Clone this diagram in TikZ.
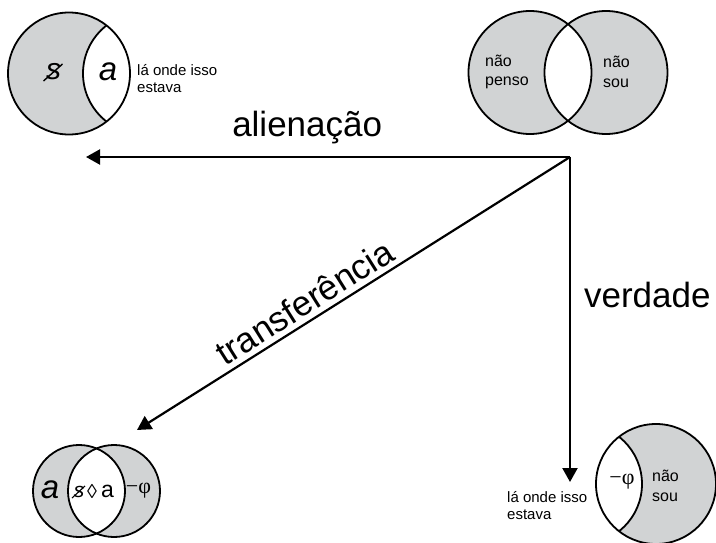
\documentclass[tikz,border=0pt]{standalone}
\usepackage{fontspec}
\setmainfont{Liberation Sans}
\newfontfamily\serifx{Liberation Serif}
\usetikzlibrary{arrows.meta}
\definecolor{venngrey}{RGB}{209,211,212}
\begin{document}
\begin{tikzpicture}[x=1pt,y=-1pt,
  ring/.style={line width=1.8pt},
  arr/.style={line width=2.2pt,-{Triangle[length=14pt,width=15pt]}},
  big/.style={font=\fontsize{35}{40}\selectfont, inner sep=0pt},
  word/.style={font=\fontsize{16}{19.5}\selectfont, align=left, anchor=west, inner sep=0pt},
  note/.style={font=\fontsize{15}{17}\selectfont, align=left, anchor=west, inner sep=0pt},
  sym/.style={inner sep=0pt}]
\useasboundingbox (0,0) rectangle (716,543);

% ---------- top-left circle (alienation) ----------
\fill[venngrey] (69,73.5) circle (61pt);
\begin{scope}
  \clip (144,73.5) circle (61pt);
  \fill[white] (69,73.5) circle (61pt);
\end{scope}
\begin{scope}
  \clip (69,73.5) circle (61pt);
  \draw[ring] (144,73.5) circle (61pt);
\end{scope}
\draw[ring] (69,73.5) circle (61pt);
\node[sym, font=\fontsize{30}{30}\selectfont\itshape] (bs1) at (53.5,72) {s};
\draw[line width=1.4pt] (bs1.center) ++(-10,9) -- ++(19,-17);
\node[sym, font=\fontsize{33}{33}\selectfont\itshape] (a1) at (108,72) {a};
\node[note] (n1) at (137,78.5) {lá onde isso\\estava};

% ---------- top-right Venn ----------
\fill[venngrey] (530,72.5) circle (61.5pt);
\fill[venngrey] (606,72.5) circle (61.5pt);
\begin{scope}
  \clip (530,72.5) circle (61.5pt);
  \fill[white] (606,72.5) circle (61.5pt);
\end{scope}
\draw[ring] (530,72.5) circle (61.5pt);
\draw[ring] (606,72.5) circle (61.5pt);
\node[word] (np) at (485,72) {não\\penso};
\node[word] (ns1) at (603,72) {não\\sou};

% ---------- bottom-left Venn ----------
\fill[venngrey] (79,491) circle (46pt);
\fill[venngrey] (114,491) circle (46pt);
\begin{scope}
  \clip (79,491) circle (46pt);
  \fill[white] (114,491) circle (46pt);
\end{scope}
\draw[ring] (79,491) circle (46pt);
\draw[ring] (114,491) circle (46pt);
\node[sym, font=\fontsize{33}{33}\selectfont\itshape] (a2) at (50,490) {a};
\node[sym, font=\fontsize{21}{21}\selectfont\itshape] (bs2) at (79,492) {s};
\draw[line width=1.1pt] (bs2.center) ++(-7,6) -- ++(13,-12);
\node[sym, font=\fontsize{20}{20}\selectfont] (dia) at (92,491) {◊};
\node[sym, font=\fontsize{23}{23}\selectfont] (a3) at (107.5,491) {a};
\node[sym, font=\fontsize{22}{22}\selectfont\serifx] (phi1) at (138.5,491) {−φ};

% ---------- bottom-right circle (truth) ----------
\fill[venngrey] (656,484) circle (60pt);
\begin{scope}
  \clip (582,484) circle (60pt);
  \fill[white] (656,484) circle (60pt);
\end{scope}
\begin{scope}
  \clip (656,484) circle (60pt);
  \draw[ring] (582,484) circle (60pt);
\end{scope}
\draw[ring] (656,484) circle (60pt);
\node[sym, font=\fontsize{22}{22}\selectfont\serifx] (phi2) at (622,482) {−φ};
\node[word] (ns2) at (652,486) {não\\sou};
\node[note] (n2) at (507,506) {lá onde isso\\estava};

% ---------- arrows ----------
\coordinate (o) at (570,157);
\coordinate (tl) at (86,157);
\coordinate (td) at (570,482);
\coordinate (tt) at (137,430);
\draw[arr] (o) -- node[big, pos=0.543, anchor=base, yshift=20pt] {alienação} (tl);
\draw[arr] (o) -- node[big, pos=0.425, anchor=west, xshift=13pt] {verdade} (td);
\draw[arr] (o) -- node[big, pos=0.59, sloped, anchor=south, inner sep=5pt] {transferência} (tt);
\end{tikzpicture}
\end{document}
